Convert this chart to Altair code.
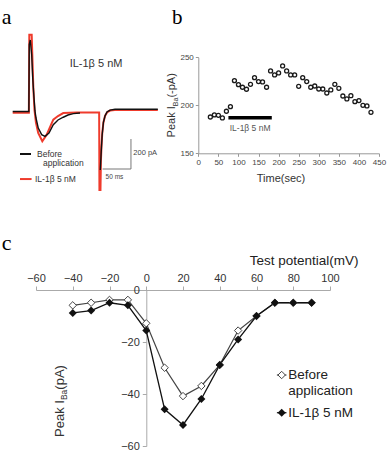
import altair as alt
import pandas as pd

SANS = "Liberation Sans"
SERIF = "Liberation Serif"
RED = "#ef3b2c"
INK = "#111111"

# ---------- a: Ba2+ current traces (time in ms, current in pA) ----------
before_t_step = [0, 28.5, 29.2, 31.0, 33.5, 35.3, 37.6, 39.3, 41.1, 45.1, 51.1, 57.0,
                 64.0, 71.6, 79.9, 89.2, 97.5, 106.9, 118.7]
before_i_step = [3, 3, 450, 480, 382, 227, 93, 7, -40, -107, -151, -162,
                 -140, -85, -53, -35, -20, -11, -7]
before_t_tail = [154.5, 156.1, 157.8, 160.1, 162.8, 166.3, 171.6, 180.4, 256.0]
before_i_tail = [-387, -267, -153, -67, -27, 0, 13, 18, 18]

il1b_t = [0, 28.5, 29.3, 33.5, 35.0, 36.5, 38.5, 41.0, 45.0, 52.2, 60.0, 71.6,
          79.9, 89.2, 112.9, 152.5, 153.0, 154.8, 155.6, 156.6, 158.0, 160.0,
          163.0, 167.0, 172.0, 180.0, 256.0]
il1b_i = [-5, -5, 515, 515, 330, 150, 10, -70, -140, -195, -151, -51,
          -27, -7, -3, -3, -520, -520, -330, -230, -140, -70,
          -25, 0, 10, 13, 13]

# scale bar: 50 ms x 200 pA
bar_t = [158.6, 208.6]
bar_i = [-380, -180]

# ---------- b: time course of peak current ----------
time_sec = [30, 40, 50, 60, 70, 80, 90, 100, 110, 120, 130, 140, 150, 160, 170,
            180, 190, 200, 210, 220, 230, 240, 250, 260, 270, 280, 290, 300, 310,
            320, 330, 340, 350, 360, 370, 380, 390, 400, 410, 420, 430]
peak_iba = [187.8, 190.0, 189.6, 186.8, 193.8, 198.6, 225.7, 221.5, 218.8, 216.7,
            221.9, 228.8, 224.7, 224.3, 218.8, 235.8, 231.6, 233.7, 241.0, 235.8,
            231.6, 231.6, 219.8, 228.8, 224.7, 218.8, 220.1, 217.0, 217.0, 212.8,
            216.0, 221.9, 217.7, 209.7, 206.6, 210.0, 203.8, 204.9, 200.0, 199.3,
            192.7]
drug_window = [75, 183]
drug_level = 187

# ---------- c: current-voltage relation ----------
test_mv = [-40, -30, -20, -10, 0, 10, 20, 30, 40, 50, 60, 70, 80, 90]
iv_before = [-5.9, -4.9, -3.8, -3.8, -12.8, -29.9, -40.8, -36.9, -28.8, -15.6,
             -10.0, -4.9, -4.9, -4.9]
iv_il1b = [-8.8, -7.9, -4.9, -5.9, -15.6, -45.9, -51.9, -41.9, -28.8, -19.0,
           -10.0, -4.9, -4.9, -4.9]

# ---------- scales: each panel owns its own region of the canvas ----------
sa_x = alt.Scale(domain=[0, 260], range=[12.7, 160.1], nice=False, zero=False)
sa_y = alt.Scale(domain=[-600, 600], range=[202, 22], nice=False, zero=False)
sb_x = alt.Scale(domain=[0, 450], range=[198.3, 379], nice=False, zero=False)
sb_y = alt.Scale(domain=[150, 250], range=[153.3, 57.3], nice=False, zero=False)
sc_x = alt.Scale(domain=[-60, 100], range=[36, 330], nice=False, zero=False)
sc_y = alt.Scale(domain=[-60, 0], range=[446, 290], nice=False, zero=False)


def text_layer(rows, xs, ys, **kw):
    return alt.Chart(pd.DataFrame(rows)).mark_text(**kw).encode(
        x=alt.X("x:Q", scale=xs, axis=None),
        y=alt.Y("y:Q", scale=ys, axis=None),
        text="label:N",
    )


def rule_layer(rows, xs, ys, **kw):
    return alt.Chart(pd.DataFrame(rows)).mark_rule(**kw).encode(
        x=alt.X("x:Q", scale=xs, axis=None),
        x2="x2:Q",
        y=alt.Y("y:Q", scale=ys, axis=None),
        y2="y2:Q",
    )


def sub_title(xs, ys, x, y, parts, size, sub_size, sub_drop):
    """Rotated axis title 'Peak I' + subscript 'Ba' + unit, laid out along the text line."""
    widths = [w for _, w, _ in parts]
    start = -sum(widths) / 2
    out = []
    for label, w, is_sub in parts:
        kw = dict(angle=270, dx=start, align="left", baseline="alphabetic",
                  font=SANS, fontSize=sub_size if is_sub else size, color="#333333")
        if is_sub:
            kw["dy"] = sub_drop
        out.append(text_layer([{"x": x, "y": y, "label": label}], xs, ys, **kw))
        start += w
    return out


units = []

# ---------- panel a ----------
red_df = pd.DataFrame({"t": il1b_t, "i": il1b_i})
red_df["k"] = range(len(red_df))
blk_df = pd.concat([
    pd.DataFrame({"t": before_t_step, "i": before_i_step, "seg": "step"}),
    pd.DataFrame({"t": before_t_tail, "i": before_i_tail, "seg": "tail"}),
], ignore_index=True)
blk_df["k"] = range(len(blk_df))

units.append(alt.Chart(red_df).mark_line(color=RED, strokeWidth=2).encode(
    x=alt.X("t:Q", scale=sa_x, axis=None),
    y=alt.Y("i:Q", scale=sa_y, axis=None),
    order="k:Q",
))
units.append(alt.Chart(blk_df).mark_line(color=INK, strokeWidth=1.4).encode(
    x=alt.X("t:Q", scale=sa_x, axis=None),
    y=alt.Y("i:Q", scale=sa_y, axis=None),
    detail="seg:N",
    order="k:Q",
))
units.append(rule_layer(
    [{"x": bar_t[0], "x2": bar_t[1], "y": bar_i[0], "y2": bar_i[0]},
     {"x": bar_t[1], "x2": bar_t[1], "y": bar_i[0], "y2": bar_i[1]}],
    sa_x, sa_y, color="#777777", strokeWidth=1))
units.append(alt.Chart(pd.DataFrame([
    {"x": 12.9, "x2": 32.3, "y": -280, "c": INK},
    {"x": 12.9, "x2": 33.3, "y": -447, "c": RED},
])).mark_rule(strokeWidth=2).encode(
    x=alt.X("x:Q", scale=sa_x, axis=None), x2="x2:Q",
    y=alt.Y("y:Q", scale=sa_y, axis=None),
    color=alt.Color("c:N", scale=None),
))
units.append(text_layer(
    [{"x": 42.9, "y": -280, "label": "Before"},
     {"x": 53.4, "y": -342, "label": "application"},
     {"x": 39.3, "y": -447, "label": "IL-1β 5 nM"}],
    sa_x, sa_y, align="left", baseline="middle", font=SANS, fontSize=8.5, color="#333333"))
units.append(text_layer([{"x": 147, "y": 320, "label": "IL-1β 5 nM"}], sa_x, sa_y,
                        align="center", baseline="middle", font=SANS, fontSize=11, color="#333333"))
units.append(text_layer([{"x": 212.7, "y": -270, "label": "200 pA"}], sa_x, sa_y,
                        align="left", baseline="middle", font=SANS, fontSize=7.5, color="#444444"))
units.append(text_layer([{"x": 179.5, "y": -432, "label": "50 ms"}], sa_x, sa_y,
                        align="center", baseline="middle", font=SANS, fontSize=6.5, color="#444444"))
units.append(text_layer([{"x": -19.4, "y": 587, "label": "a"}], sa_x, sa_y,
                        align="left", baseline="alphabetic", font=SERIF, fontSize=22, color="#000000"))

# ---------- panel b ----------
tc_df = pd.DataFrame({"time": time_sec, "peak": peak_iba})
units.append(alt.Chart(tc_df).mark_point(shape="circle", filled=False, size=16, opacity=1,
                                         strokeWidth=1.3, color="#1a1a1a").encode(
    x=alt.X("time:Q", scale=sb_x, axis=alt.Axis(
        orient="bottom", offset=-302.7, values=[0, 50, 100, 150, 200, 250, 300, 350, 400, 450],
        labelFontSize=8, labelColor="#444444", labelFont=SANS, labelFlush=False,
        labelOverlap=False, domainColor="#999999", tickColor="#999999", tickSize=3,
        labelPadding=2, grid=False, title="Time(sec)", titleFont=SANS, titleFontSize=11,
        titleFontWeight="normal", titleColor="#333333", titleX=280.5, titleY=24.7,
        titleAlign="center", titleBaseline="middle")),
    y=alt.Y("peak:Q", scale=sb_y, axis=alt.Axis(
        orient="left", offset=-198.3, values=[150, 200, 250], labelFontSize=8,
        labelColor="#444444", labelFont=SANS, labelFlush=False, labelOverlap=False,
        domainColor="#999999", tickColor="#999999", tickSize=3, labelPadding=2,
        grid=False, title=None)),
))
units.append(rule_layer([{"x": drug_window[0], "x2": drug_window[1],
                          "y": drug_level, "y2": drug_level}],
                        sb_x, sb_y, color="#000000", strokeWidth=3.6))
units.append(text_layer([{"x": 129, "y": 176, "label": "IL-1β 5 nM"}], sb_x, sb_y,
                        align="center", baseline="middle", font=SANS, fontSize=8.5, color="#555555"))
units += sub_title(sb_x, sb_y, -58, 200,
                   [("Peak I", 31.2, False), ("Ba", 8.6, True), ("(-pA)", 24.4, False)],
                   11, 7, 2.5)
units.append(text_layer([{"x": -65.5, "y": 284.7, "label": "b"}], sb_x, sb_y,
                        align="left", baseline="alphabetic", font=SERIF, fontSize=21, color="#000000"))

# ---------- panel c ----------
iv_df = pd.DataFrame({"mv": test_mv, "before": iv_before, "il1b": iv_il1b})
x_c_axis = alt.Axis(
    orient="top", offset=-290, values=[-60, -40, -20, 0, 20, 40, 60, 80, 100],
    labelFontSize=11, labelColor="#333333", labelFont=SANS, labelFlush=False,
    labelOverlap=False, domainColor="#aaaaaa", tickColor="#aaaaaa", tickSize=4,
    labelPadding=3, grid=False, title="Test potential(mV)", titleFont=SANS,
    titleFontSize=13.5, titleFontWeight="normal", titleColor="#222222",
    titleX=358, titleY=-29.3, titleAlign="right", titleBaseline="middle")
y_c_axis = alt.Axis(
    orient="left", offset=-146.3, values=[-60, -40, -20, 0], labelFontSize=11,
    labelColor="#333333", labelFont=SANS, labelFlush=False, labelOverlap=False,
    domainColor="#aaaaaa", tickColor="#aaaaaa", tickSize=4, labelPadding=3,
    grid=False, title=None)

units.append(alt.Chart(iv_df).mark_line(color="#444444", strokeWidth=1.2).encode(
    x=alt.X("mv:Q", scale=sc_x, axis=x_c_axis),
    y=alt.Y("before:Q", scale=sc_y, axis=y_c_axis)))
units.append(alt.Chart(iv_df).mark_line(color=INK, strokeWidth=1.3).encode(
    x=alt.X("mv:Q", scale=sc_x, axis=None),
    y=alt.Y("il1b:Q", scale=sc_y, axis=None)))
units.append(alt.Chart(iv_df).mark_point(shape="diamond", filled=True, fill="white",
                                         stroke="#444444", strokeWidth=1, size=55, opacity=1).encode(
    x=alt.X("mv:Q", scale=sc_x, axis=None),
    y=alt.Y("before:Q", scale=sc_y, axis=None)))
units.append(alt.Chart(iv_df).mark_point(shape="diamond", filled=True, color=INK, size=64,
                                         opacity=1).encode(
    x=alt.X("mv:Q", scale=sc_x, axis=None),
    y=alt.Y("il1b:Q", scale=sc_y, axis=None)))

units.append(alt.Chart(pd.DataFrame([
    {"x": 71.1, "x2": 76.3, "y": -32.7, "c": "#444444"},
    {"x": 71.1, "x2": 76.3, "y": -47.2, "c": INK},
])).mark_rule(strokeWidth=1.2).encode(
    x=alt.X("x:Q", scale=sc_x, axis=None), x2="x2:Q",
    y=alt.Y("y:Q", scale=sc_y, axis=None),
    color=alt.Color("c:N", scale=None),
))
units.append(alt.Chart(pd.DataFrame([{"x": 73.7, "y": -32.7}])).mark_point(
    shape="diamond", filled=True, fill="white", stroke="#444444", strokeWidth=1,
    size=55, opacity=1).encode(
    x=alt.X("x:Q", scale=sc_x, axis=None), y=alt.Y("y:Q", scale=sc_y, axis=None)))
units.append(alt.Chart(pd.DataFrame([{"x": 73.7, "y": -47.2}])).mark_point(
    shape="diamond", filled=True, color=INK, size=64, opacity=1).encode(
    x=alt.X("x:Q", scale=sc_x, axis=None), y=alt.Y("y:Q", scale=sc_y, axis=None)))
units.append(text_layer(
    [{"x": 77.3, "y": -32.7, "label": "Before"},
     {"x": 77.3, "y": -38.9, "label": "application"},
     {"x": 77.3, "y": -47.2, "label": "IL-1β 5 nM"}],
    sc_x, sc_y, align="left", baseline="middle", font=SANS, fontSize=13.5, color="#222222"))
units += sub_title(sc_x, sc_y, -44.8, -42.7,
                   [("Peak I", 36.9, False), ("Ba", 10.4, True), ("(pA)", 24.6, False)],
                   13, 8.5, 3)
units.append(text_layer([{"x": -78.7, "y": 15.4, "label": "c"}], sc_x, sc_y,
                        align="left", baseline="alphabetic", font=SERIF, fontSize=22, color="#000000"))

chart = (
    alt.layer(*units)
    .resolve_scale(x="independent", y="independent")
    .resolve_axis(x="independent", y="independent")
    .properties(width=388, height=456, padding=0,
                autosize=alt.AutoSizeParams(type="none"), background="white")
    .configure_view(stroke=None)
)

chart.save("out.html", embed_options={"renderer": "svg", "actions": False})
